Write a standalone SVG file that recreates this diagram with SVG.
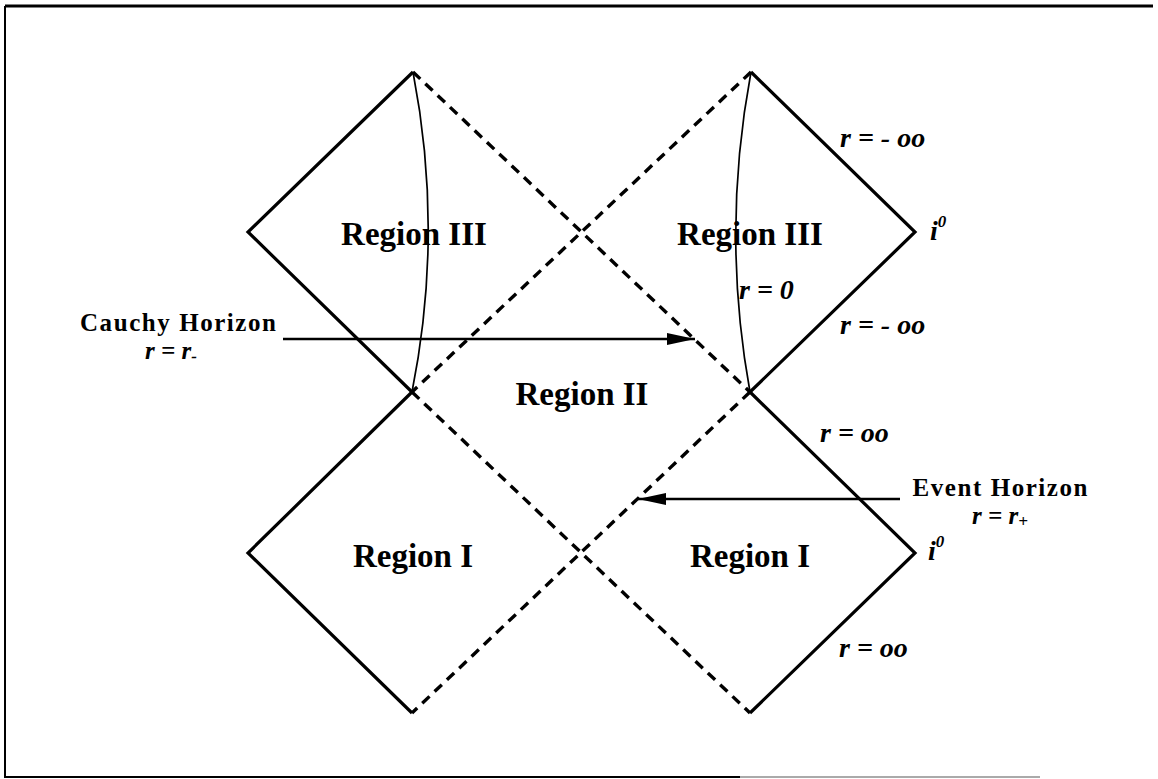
<svg xmlns="http://www.w3.org/2000/svg" width="1158" height="779" viewBox="0 0 1158 779">
<style>
.solid{fill:none;stroke:#000;stroke-width:3.2;stroke-linejoin:miter}
.dash{fill:none;stroke:#000;stroke-width:3.4;stroke-dasharray:10 7}
.thin{fill:none;stroke:#000;stroke-width:1.7}
.arrow{fill:none;stroke:#000;stroke-width:2.6}
.reg{font-family:"Liberation Serif","Times New Roman",serif;font-weight:bold;font-size:33px;fill:#000;text-anchor:middle}
.lab{font-family:"Liberation Serif","Times New Roman",serif;font-weight:bold;font-size:25px;fill:#000;text-anchor:middle}
.math{font-family:"Liberation Serif","Times New Roman",serif;font-weight:bold;font-style:italic;font-size:28px;fill:#000}
.sub{font-family:"Liberation Serif","Times New Roman",serif;font-weight:bold;font-style:italic;font-size:25px;fill:#000;text-anchor:middle}
</style>
<defs>
<marker id="ah" markerWidth="28" markerHeight="12" refX="28" refY="6" orient="auto" markerUnits="userSpaceOnUse">
<path d="M0,0 L28,6 L0,12 Z" fill="#000"/>
</marker>
</defs>
<rect width="1158" height="779" fill="#fff"/>
<g id="frame">
<line x1="5" y1="6" x2="1153" y2="6" stroke="#000" stroke-width="3"/>
<line x1="5" y1="6" x2="5" y2="778" stroke="#000" stroke-width="2"/>
<line x1="5" y1="777" x2="740" y2="777" stroke="#000" stroke-width="2"/>
<line x1="740" y1="777" x2="1040" y2="777" stroke="#aaa" stroke-width="2"/>
</g>
<g id="region-iii-left">
<path class="solid" d="M413,72 L248,232 L412,392"/>
<path class="thin" d="M413,72 Q444,232 412,392"/>
<text class="reg" x="414" y="245">Region III</text>
</g>
<g id="region-iii-right">
<path class="solid" d="M751,72 L915,232 L750,392"/>
<path class="thin" d="M751,72 Q721,232 750,392"/>
<text class="reg" x="750" y="245">Region III</text>
<text class="math" x="840" y="147">r = - oo</text>
<text class="math" x="739" y="299">r = 0</text>
<text class="math" x="840" y="334">r = - oo</text>
<text class="math" x="930" y="240" font-size="32">i<tspan font-size="17" dy="-13">0</tspan></text>
</g>
<g id="region-ii">
<path class="dash" d="M413,72 L750,392"/>
<path class="dash" d="M751,72 L412,392"/>
<text class="reg" x="582" y="405">Region II</text>
</g>
<g id="region-i-left">
<path class="solid" d="M412,392 L248,553 L412,713"/>
<text class="reg" x="413" y="567">Region I</text>
</g>
<g id="region-i-right">
<path class="solid" d="M750,392 L915,553 L750,713"/>
<path class="dash" d="M412,392 L750,713"/>
<path class="dash" d="M750,392 L412,713"/>
<text class="reg" x="750" y="567">Region I</text>
<text class="math" x="820" y="442">r = oo</text>
<text class="math" x="839" y="657">r = oo</text>
<text class="math" x="928" y="560" font-size="32">i<tspan font-size="17" dy="-13">0</tspan></text>
</g>
<g id="cauchy-horizon">
<text class="lab" x="178" y="331" textLength="196" lengthAdjust="spacing">Cauchy Horizon</text>
<text class="sub" x="171" y="359">r = r<tspan font-size="17" dy="3">-</tspan></text>
</g>
<g id="event-horizon">
<text class="lab" x="1000" y="496" textLength="175" lengthAdjust="spacing">Event Horizon</text>
<text class="sub" x="1000" y="524">r = r<tspan font-size="17" dy="3">+</tspan></text>
</g>
<g id="connectors">
<line class="arrow" x1="283" y1="339" x2="695" y2="339" marker-end="url(#ah)"/>
<line class="arrow" x1="900" y1="499" x2="638" y2="499" marker-end="url(#ah)"/>
</g>
</svg>
